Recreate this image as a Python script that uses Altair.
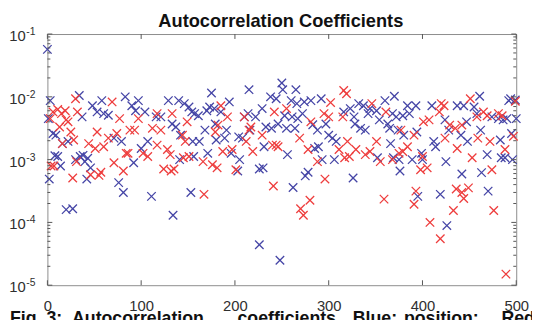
import altair as alt
import pandas as pd

# ---------------- data ----------------
blue_x = [0, 1, 2, 3, 6, 8, 9, 11, 14, 16, 20, 22, 27, 30, 34, 35, 37, 38, 40, 42, 43, 46, 48, 53, 58, 60,
          65, 71, 76, 79, 81, 83, 90, 92, 94, 97, 100, 104, 107, 111, 116, 121, 129, 133, 134, 137, 140, 141,
          142, 146, 151, 153, 154, 155, 156, 157, 161, 162, 168, 170, 171, 173, 175, 178, 179, 180, 185, 189,
          191, 194, 196, 203, 204, 205, 208, 210, 214, 215, 216, 222, 226, 226, 229, 230, 231, 233, 238, 239,
          244, 246, 248, 250, 251, 253, 255, 256, 260, 261, 262, 264, 265, 266, 267, 272, 274, 275, 278, 281,
          283, 285, 288, 289, 292, 293, 297, 300, 304, 306, 308, 316, 323, 326, 327, 328, 332, 334, 337, 339,
          342, 344, 351, 352, 354, 360, 363, 365, 366, 368, 369, 370, 372, 374, 375, 376, 379, 380, 384, 386,
          389, 393, 394, 395, 399, 400, 410, 412, 414, 419, 424, 425, 426, 428, 437, 441, 442, 444, 447, 448,
          455, 458, 461, 462, 463, 469, 470, 474, 481, 483, 484, 486, 488, 490, 492, 494, 495, 496, 499, 500]
blue_v = [5.7e-2, 4.5e-3, 4.9e-4, 8.7e-3, 2.6e-3, 1.15e-3, 2.45e-3, 1.12e-3, 7.9e-4, 1.8e-3, 1.6e-4, 1.95e-3,
          1.65e-4, 1.0e-3, 1.05e-2, 1.12e-3, 4.8e-3, 1.17e-3, 9.3e-4, 4.9e-4, 1.05e-3, 7.4e-4, 7.2e-3, 5.75e-3,
          8.7e-3, 5.4e-3, 5.1e-3, 2.2e-3, 4.3e-4, 1.95e-3, 3.0e-4, 1.0e-2, 7.2e-3, 8.9e-4, 6.0e-3, 8.7e-3,
          1.5e-3, 5.75e-3, 1.95e-3, 2.6e-4, 4.8e-3, 4.8e-3, 8.7e-3, 3.7e-3, 1.3e-4, 3.3e-3, 8.7e-3, 1.0e-3,
          2.45e-3, 7.8e-3, 6.9e-3, 3.0e-4, 5.75e-3, 1.95e-3, 1.12e-3, 5.4e-3, 5.0e-3, 1.95e-3, 2.95e-3, 6.0e-3,
          1.26e-3, 6.9e-3, 1.15e-2, 6.5e-3, 3.7e-3, 2.05e-3, 5.75e-3, 2.2e-3, 2.95e-3, 8.3e-3, 1.26e-3, 6.6e-4,
          2.3e-3, 1.0e-3, 2.2e-3, 4.8e-3, 5.4e-3, 1.3e-2, 2.95e-3, 4.8e-3, 7.1e-4, 4.4e-5, 6.5e-3, 7.4e-4,
          1.6e-3, 3.3e-3, 1.0e-2, 3.15e-3, 9.3e-3, 3.7e-3, 2.5e-5, 1.66e-2, 1.3e-2, 5.0e-3, 3.15e-3, 1.2e-3,
          8.7e-3, 4.8e-3, 3.6e-4, 3.15e-3, 1.3e-2, 7.8e-3, 4.5e-3, 5.4e-3, 8.3e-3, 5.5e-4, 6.3e-4, 8.7e-3,
          3.6e-3, 1.5e-3, 2.95e-3, 1.6e-3, 9.3e-3, 1.0e-3, 3.7e-3, 2.45e-3, 2.2e-3, 1.0e-3, 1.95e-3, 5.75e-3,
          6.5e-3, 5.1e-4, 4.8e-3, 3.7e-3, 7.8e-3, 3.15e-3, 7.2e-3, 2.95e-3, 5.4e-3, 6.5e-3, 6.0e-3, 1.07e-3,
          4.3e-3, 8.7e-3, 3.7e-3, 3.15e-3, 1.8e-3, 5.4e-3, 1.07e-3, 1.02e-2, 4.8e-3, 2.95e-3, 1.0e-3, 6.6e-4,
          5.0e-3, 2.45e-3, 7.2e-3, 5.4e-3, 1.0e-3, 7.2e-3, 2.75e-3, 2.6e-4, 1.26e-3, 1.0e-3, 7.2e-3, 1.95e-3,
          1.6e-3, 2.8e-4, 4.3e-3, 9.3e-4, 8.9e-5, 2.95e-3, 7.2e-3, 2.45e-3, 5.9e-4, 7.2e-3, 4.0e-3, 1.95e-3,
          6.9e-3, 5.4e-3, 1.02e-2, 2.95e-3, 6.2e-4, 1.2e-3, 3.15e-4, 4.8e-3, 4.5e-3, 2.05e-3, 1.07e-3, 4.3e-3,
          1.07e-3, 4.5e-3, 8.7e-3, 9.3e-3, 2.6e-3, 1.0e-3, 8.9e-3, 4.5e-3]

red_x = [3, 4, 6, 7, 11, 13, 15, 16, 19, 20, 22, 25, 27, 28, 30, 31, 32, 44, 46, 51, 53, 55, 57, 60, 65, 69,
         71, 74, 77, 81, 84, 86, 88, 93, 97, 102, 107, 112, 117, 117, 121, 124, 128, 131, 132, 133, 135, 144,
         145, 147, 149, 151, 166, 167, 176, 179, 181, 182, 185, 187, 192, 197, 201, 210, 212, 215, 217, 219,
         229, 240, 241, 242, 244, 246, 255, 269, 270, 273, 278, 280, 281, 288, 295, 296, 300, 302, 311, 315,
         316, 317, 319, 320, 322, 329, 339, 344, 346, 351, 355, 359, 361, 368, 375, 377, 379, 384, 391, 391,
         393, 398, 400, 401, 405, 407, 408, 418, 419, 420, 423, 424, 429, 433, 435, 436, 437, 442, 442, 444,
         449, 451, 453, 458, 459, 465, 469, 472, 474, 476, 481, 485, 488, 489, 497, 499]
red_v = [4.5e-3, 7.9e-4, 5.75e-3, 7.9e-4, 6.3e-3, 3.3e-3, 5.4e-3, 1.8e-3, 6.0e-3, 4.3e-3, 4.0e-3, 2.75e-3,
         5.1e-4, 2.05e-3, 9.3e-3, 9.3e-4, 5.75e-3, 1.8e-3, 5.75e-4, 1.5e-3, 2.75e-3, 5.6e-4, 6.3e-4, 1.6e-3,
         2.2e-3, 8.3e-3, 8.9e-4, 2.6e-3, 4.5e-3, 6.6e-4, 1.26e-3, 1.26e-3, 2.95e-3, 2.95e-3, 4.5e-3, 1.26e-3,
         1.12e-3, 3.15e-3, 5.4e-3, 1.7e-3, 2.95e-3, 7.1e-4, 1.45e-3, 1.2e-3, 6.6e-4, 5.4e-3, 7.1e-4, 2.45e-3,
         1.07e-3, 1.95e-3, 4.0e-3, 1.12e-3, 9.3e-4, 2.8e-4, 8.3e-4, 2.75e-3, 7.4e-4, 3.55e-3, 7.2e-3, 1.35e-3,
         4.8e-3, 1.45e-3, 6.9e-4, 4.8e-3, 1.95e-3, 2.95e-3, 3.3e-3, 1.35e-3, 2.45e-3, 1.7e-3, 3.8e-4, 5.75e-3,
         1.7e-3, 1.6e-3, 6.5e-3, 2.2e-3, 1.65e-4, 1.3e-4, 1.45e-3, 2.25e-4, 4.0e-3, 9.3e-4, 5.4e-3, 4.9e-4,
         4.8e-3, 8.1e-3, 1.45e-3, 4.8e-3, 1.26e-2, 1.07e-3, 1.12e-2, 1.95e-3, 1.12e-3, 1.45e-3, 1.2e-3, 1.35e-3,
         7.8e-3, 1.95e-3, 9.3e-4, 2.35e-4, 5.75e-3, 1.0e-3, 1.26e-3, 2.95e-3, 1.35e-3, 1.6e-3, 2.45e-3, 1.95e-4,
         3.15e-4, 6.9e-4, 1.12e-3, 4.0e-3, 7.4e-4, 4.3e-3, 1.0e-4, 5.75e-3, 5.5e-5, 7.8e-3, 7.2e-3, 2.2e-3,
         3.55e-3, 1.55e-4, 3.15e-3, 3.4e-4, 1.5e-3, 3.55e-3, 3.0e-4, 2.4e-4, 3.55e-4, 9.3e-3, 1.07e-3, 4.8e-3,
         2.2e-3, 5.75e-3, 5.0e-3, 1.95e-3, 6.9e-4, 1.55e-4, 5.4e-3, 5.0e-3, 1.45e-3, 1.5e-5, 2.35e-3, 8.5e-3]

x_ticks = [0, 100, 200, 300, 400, 500]
y_major = [1e-5, 1e-4, 1e-3, 1e-2, 1e-1]
y_base = ["10", "10", "10", "10", "10"]
y_exp = ["-5", "-4", "-3", "-2", "-1"]
y_minor = [2e-5, 3e-5, 4e-5, 5e-5, 6e-5, 7e-5, 8e-5, 9e-5,
           2e-4, 3e-4, 4e-4, 5e-4, 6e-4, 7e-4, 8e-4, 9e-4,
           2e-3, 3e-3, 4e-3, 5e-3, 6e-3, 7e-3, 8e-3, 9e-3,
           2e-2, 3e-2, 4e-2, 5e-2, 6e-2, 7e-2, 8e-2, 9e-2]

title_text = "Autocorrelation Coefficients"
caption_words = ["Fig. 3:", "Autocorrelation", "coefficients.", "Blue:", "position;", "Red:"]

# ---------------- layout ----------------
W, H = 476, 255
FONT = "Liberation Sans"
BLUE = "#4545a6"
RED = "#ee3d3d"
FRAME = "#8c8c8c"
LABEL = "#2f2f2f"

df = pd.concat([
    pd.DataFrame({"lag": blue_x, "coef": blue_v, "series": "blue"}),
    pd.DataFrame({"lag": red_x, "coef": red_v, "series": "red"}),
], ignore_index=True)

xscale = alt.Scale(domain=[0, 500], nice=False, zero=False)
yscale = alt.Scale(type="log", domain=[1e-5, 1e-1], nice=False)

xshape = "M-1,-1L1,1M-1,1L1,-1"

points = alt.Chart(df).mark_point(
    shape=xshape, filled=False, size=74, strokeWidth=1.3, opacity=1
).encode(
    x=alt.X("lag:Q", scale=xscale, axis=alt.Axis(
        values=x_ticks, ticks=False, domain=False, grid=False, title=None,
        labelFont=FONT, labelFontSize=15, labelColor=LABEL, labelPadding=14,
        labelFlush=False, format="d")),
    y=alt.Y("coef:Q", scale=yscale, axis=None),
    color=alt.Color("series:N", scale=alt.Scale(domain=["blue", "red"], range=[BLUE, RED]), legend=None),
)

xt = pd.DataFrame({"t": x_ticks})
ymaj = pd.DataFrame({"t": y_major, "base": y_base, "exp": y_exp})
ymin = pd.DataFrame({"t": y_minor})
tick_style = dict(color="#555555", strokeWidth=1)

ticks = [
    alt.Chart(xt).mark_rule(**tick_style).encode(x=alt.X("t:Q", scale=xscale), y=alt.value(H), y2=alt.value(H - 5)),
    alt.Chart(xt).mark_rule(**tick_style).encode(x=alt.X("t:Q", scale=xscale), y=alt.value(0), y2=alt.value(5)),
    alt.Chart(ymaj).mark_rule(**tick_style).encode(y=alt.Y("t:Q", scale=yscale), x=alt.value(0), x2=alt.value(5)),
    alt.Chart(ymaj).mark_rule(**tick_style).encode(y=alt.Y("t:Q", scale=yscale), x=alt.value(W), x2=alt.value(W - 5)),
    alt.Chart(ymin).mark_rule(**tick_style).encode(y=alt.Y("t:Q", scale=yscale), x=alt.value(0), x2=alt.value(3)),
    alt.Chart(ymin).mark_rule(**tick_style).encode(y=alt.Y("t:Q", scale=yscale), x=alt.value(W), x2=alt.value(W - 3)),
]

ylab_base = alt.Chart(ymaj).mark_text(
    font=FONT, fontSize=15, color=LABEL, align="right", baseline="alphabetic", dx=-22, dy=7
).encode(text="base:N", y=alt.Y("t:Q", scale=yscale), x=alt.value(0))
ylab_exp = alt.Chart(ymaj).mark_text(
    font=FONT, fontSize=10.5, color=LABEL, align="left", baseline="alphabetic", dx=-21.5, dy=1
).encode(text="exp:N", y=alt.Y("t:Q", scale=yscale), x=alt.value(0))

title = alt.Chart(pd.DataFrame({"t": [title_text]})).mark_text(
    font=FONT, fontSize=18.5, fontWeight="bold", color="#111111", align="center", baseline="alphabetic"
).encode(text="t:N", x=alt.value(W / 2 - 1), y=alt.value(-7))

cap_x = [-38, 25, 193, 310, 362, 461]
cap_df = pd.DataFrame({"w": caption_words, "px": cap_x})
caption = alt.Chart(cap_df).mark_text(
    font=FONT, fontSize=18, fontWeight="bold", color="#111111", align="left", baseline="alphabetic"
).encode(text="w:N", x=alt.X("px:Q", scale=None), y=alt.value(294))

chart = alt.layer(points, *ticks, ylab_base, ylab_exp, title, caption).resolve_scale(
    color="independent"
).properties(
    width=W, height=H,
    autosize=alt.AutoSizeParams(type="none"),
    padding={"left": 40, "top": 24, "right": 16, "bottom": 40},
).configure_view(stroke=FRAME, strokeWidth=1)

chart.save("out.html", embed_options={"renderer": "svg", "actions": False})
